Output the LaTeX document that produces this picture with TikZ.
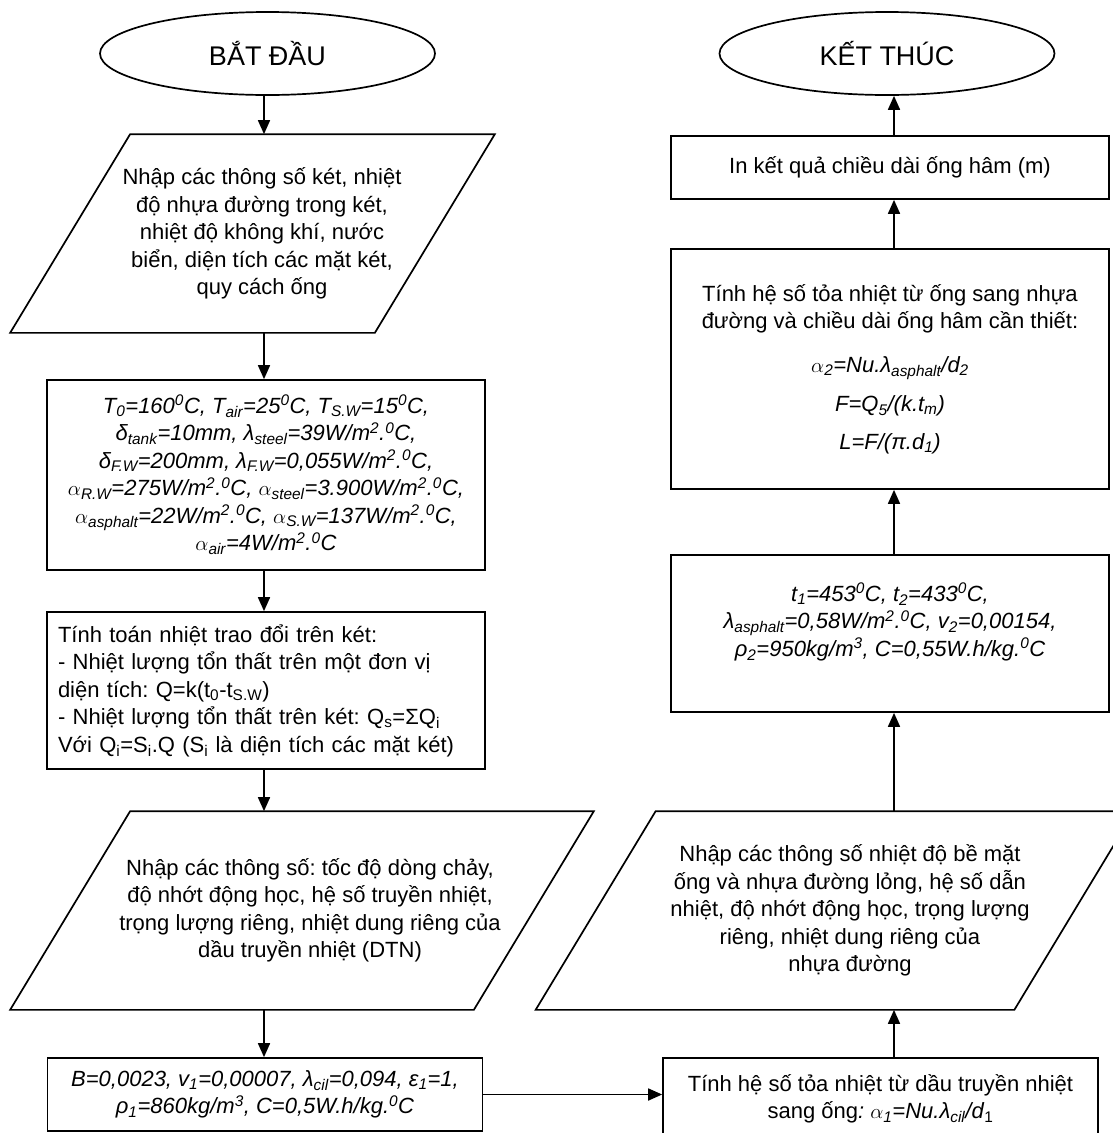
\documentclass[tikz,border=0pt]{standalone}
\usepackage{fontspec}
\setmainfont{Liberation Sans}
\usetikzlibrary{shapes.geometric,arrows.meta}

\newcommand{\lo}[1]{\textsubscript{#1}}
\newcommand{\hi}[1]{\textsuperscript{#1}}
\newcommand{\dgC}{\hi{0}C}
\newcommand{\wmc}{W/m\hi{2}.\hi{0}C}
% parallelogram round an io node: #1 node, #2 shift of the frame
\newcommand{\slanted}[2]{%
	\draw[border] ([xshift={#2-60}]#1.south west) -- ([xshift={#2+60}]#1.north west)
		-- ([xshift={#2+60}]#1.north east) -- ([xshift={#2-60}]#1.south east) -- cycle;}

\tikzset{
	border/.style={line width=1.7pt},
	base/.style={draw, border, align=center, inner sep=4pt,
		font=\fontsize{22}{27.5}\selectfont\frenchspacing},
	terminal/.style={base, ellipse, minimum width=335, minimum height=83,
		font=\fontsize{27}{32}\selectfont},
	io/.style={base, draw=none, rectangle, minimum height=197},
	proc/.style={base, rectangle, minimum width=438},
	data/.style={proc, font=\fontsize{22}{27.5}\selectfont\itshape},
	flow/.style={line width=1.7pt, -{Triangle[length=14pt,width=12pt]}},
}

\begin{document}
\frenchspacing
\begin{tikzpicture}[x=1pt, y=-1pt]
	\useasboundingbox (0,0) rectangle (1112,1133);
	\coordinate (lc) at (264,0);
	\coordinate (rc) at (894,0);

	% left column
	\node[terminal] (start) at (267.5,53.5) {BẮT ĐẦU};
	\node[io, minimum width=363] (in1) at (262,233.5)
		{Nhập các thông số két, nhiệt\\ độ nhựa đường trong két,\\ nhiệt độ không khí, nước\\ biển, diện tích các mặt két,\\ quy cách ống};
	\slanted{in1}{-9.5}
	\node[data, minimum height=190] (par) at (266,475)
		{T\lo{0}=160\dgC, T\lo{air}=25\dgC, T\lo{S.W}=15\dgC,\\
		δ\lo{tank}=10mm, λ\lo{steel}=39\wmc,\\
		δ\lo{F.W}=200mm, λ\lo{F.W}=0,055\wmc,\\
		$\alpha$\lo{R.W}=275\wmc, $\alpha$\lo{steel}=3.900\wmc,\\
		$\alpha$\lo{asphalt}=22\wmc, $\alpha$\lo{S.W}=137\wmc,\\
		$\alpha$\lo{air}=4\wmc};
	\node[proc, minimum height=157, text width=416, align=left] (heat) at (266,690.5)
		{Tính toán nhiệt trao đổi trên két:\\
		- Nhiệt lượng tổn thất trên một đơn vị\\
		diện tích: Q=k(t\lo{0}-t\lo{S.W})\\
		- Nhiệt lượng tổn thất trên két: Q\lo{s}=ΣQ\lo{i}\\
		Với Q\lo{i}=S\lo{i}.Q (S\lo{i} là diện tích các mặt két)};
	\node[io, minimum width=462] (in2) at (310,910.5)
		{Nhập các thông số: tốc độ dòng chảy,\\ độ nhớt động học, hệ số truyền nhiệt,\\ trọng lượng riêng, nhiệt dung riêng của\\ dầu truyền nhiệt (DTN)};
	\slanted{in2}{-8}
	\node[data, minimum width=435, minimum height=73] (dat1) at (265,1094.5)
		{B=0,0023, v\lo{1}=0,00007, λ\lo{cil}=0,094, ε\lo{1}=1,\\
		ρ\lo{1}=860kg/m\hi{3}, C=0,5W.h/kg.\dgC};

	% right column
	\node[proc, minimum width=435, minimum height=82] (alpha1) at (880.5,1099)
		{Tính hệ số tỏa nhiệt từ dầu truyền nhiệt\\
		sang ống\textit{: $\alpha$\lo{1}=Nu.λ\lo{cil}/d}\lo{1}};
	\node[io, minimum width=477] (in3) at (850,910.5)
		{Nhập các thông số nhiệt độ bề mặt\\ ống và nhựa đường lỏng, hệ số dẫn\\ nhiệt, độ nhớt động học, trọng lượng\\ riêng, nhiệt dung riêng của\\ nhựa đường};
	\slanted{in3}{-15}
	\node[data, minimum height=157] (dat2) at (890,633.5)
		{t\lo{1}=453\dgC, t\lo{2}=433\dgC,\\
		λ\lo{asphalt}=0,58\wmc, v\lo{2}=0,00154,\\
		ρ\lo{2}=950kg/m\hi{3}, C=0,55W.h/kg.\dgC\\ ~};
	\node[proc, minimum height=240] (calc) at (890,369)
		{Tính hệ số tỏa nhiệt từ ống sang nhựa\\
		đường và chiều dài ống hâm cần thiết:\\[16pt]
		\textit{$\alpha$\lo{2}=Nu.λ\lo{asphalt}/d\lo{2}}\\[12pt]
		\textit{F=Q\lo{5}/(k.t\lo{m})}\\[10pt]
		\textit{L=F/(π.d\lo{1})}};
	\node[proc, minimum height=63] (out) at (890,167.5)
		{In kết quả chiều dài ống hâm (m)};
	\node[terminal] (stop) at (887,53.5) {KẾT THÚC};

	% connectors
	\draw[flow] (start.south -| lc) -- (in1.north -| lc);
	\draw[flow] (in1.south -| lc) -- (par.north -| lc);
	\draw[flow] (par.south -| lc) -- (heat.north -| lc);
	\draw[flow] (heat.south -| lc) -- (in2.north -| lc);
	\draw[flow] (in2.south -| lc) -- (dat1.north -| lc);
	\draw[flow] (dat1.east) -- (dat1.east -| alpha1.west);
	\draw[flow] (alpha1.north -| rc) -- (in3.south -| rc);
	\draw[flow] (in3.north -| rc) -- (dat2.south -| rc);
	\draw[flow] (dat2.north -| rc) -- (calc.south -| rc);
	\draw[flow] (calc.north -| rc) -- (out.south -| rc);
	\draw[flow] (out.north -| rc) -- (stop.south -| rc);
\end{tikzpicture}
\end{document}
